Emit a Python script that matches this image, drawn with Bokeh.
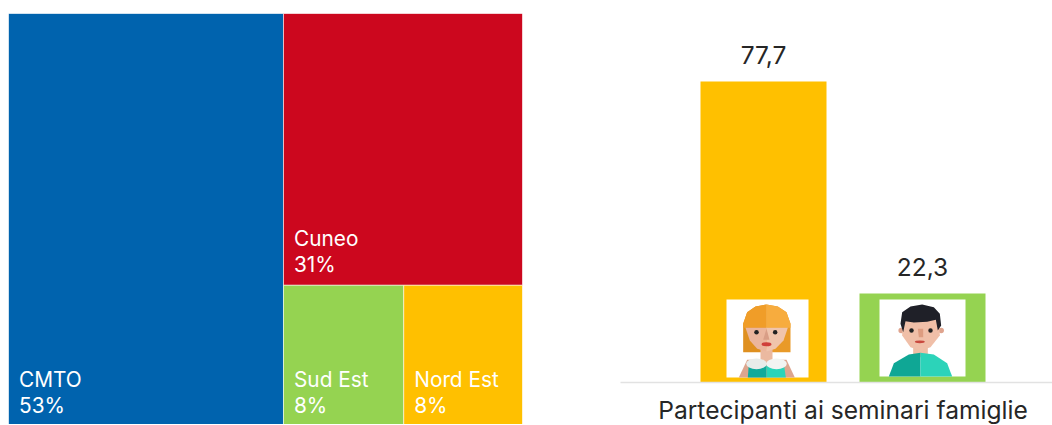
from bokeh.plotting import figure
from bokeh.layouts import row
from bokeh.models import Range1d, FactorRange, ColumnDataSource
from bokeh.transform import dodge
from bokeh.core.properties import value
from bokeh.embed import file_html
from bokeh.resources import INLINE

# ---- data ----
region_names = ["CMTO", "Cuneo", "Sud Est", "Nord Est"]
region_shares = [53.5, 30.6, 8.0, 7.9]
region_labels = ["53%", "31%", "8%", "8%"]
region_colors = ["#0063AE", "#CC071E", "#95D351", "#FFC000"]

category = "Partecipanti ai seminari famiglie"
series_values = [77.7, 22.3]
series_labels = ["77,7", "22,3"]
series_colors = ["#FFC000", "#95D351"]

FONT = "Inter"
TREE_FS = "20.8px"
BAR_FS = "24.5px"

# ---- treemap (slice and dice from the shares) ----
total = sum(region_shares)
first_w = region_shares[0] / total * 100
rest = sum(region_shares[1:])
second_h = region_shares[1] / rest * 100
low_h = 100 - second_h
low_split = first_w + (100 - first_w) * region_shares[2] / (region_shares[2] + region_shares[3])

left = [0, first_w, first_w, low_split]
right = [first_w, 100, low_split, 100]
bottom = [0, low_h, 0, 0]
top = [100, 100, low_h, low_h]

tree = ColumnDataSource(dict(left=left, right=right, bottom=bottom, top=top,
                             color=region_colors, name=region_names, label=region_labels))

p1 = figure(width=534, height=432, output_backend="svg", toolbar_location=None,
            x_range=Range1d(0, 100), y_range=Range1d(0.48, 100), frame_align=False,
            min_border_left=16, min_border_right=4, min_border_top=21, min_border_bottom=0,
            outline_line_color=None, background_fill_color="white")
p1.axis.visible = False
p1.grid.visible = False
p1.quad(left="left", right="right", bottom="bottom", top="top", fill_color="color",
        line_color="white", line_alpha=0.55, line_width=1, source=tree)
p1.text(x="left", y="bottom", text="name", x_offset=10.5, y_offset=-47, text_color="white",
        text_font=value(FONT), text_font_size=TREE_FS, text_baseline="alphabetic", source=tree)
p1.text(x="left", y="bottom", text="label", x_offset=10.5, y_offset=-21, text_color="white",
        text_font=value(FONT), text_font_size=TREE_FS, text_baseline="alphabetic", source=tree)

# ---- bars ----
Y0, Y1 = -0.95, 98.87
FRAME_W = 445
p2 = figure(width=94 + FRAME_W, height=432, output_backend="svg", toolbar_location=None,
            x_range=FactorRange(factors=[category], range_padding=0),
            y_range=Range1d(Y0, Y1), frame_align=False, frame_height=382,
            min_border_left=94, min_border_right=0, min_border_top=8, min_border_bottom=0,
            outline_line_color=None, background_fill_color="white")
p2.yaxis.visible = False
p2.grid.visible = False
p2.xaxis.axis_line_color = "#E2E2E2"
p2.xaxis.axis_line_width = 1.5
p2.xaxis.major_tick_line_color = None
p2.xaxis.minor_tick_line_color = None
p2.xaxis.major_label_text_font = FONT
p2.xaxis.major_label_text_font_size = "24.6px"
p2.xaxis.major_label_text_color = "#262626"
p2.xaxis.major_label_standoff = 6

OFFS = [-79.5 / FRAME_W, 79.5 / FRAME_W]
for val, lab, col, off in zip(series_values, series_labels, series_colors, OFFS):
    s = ColumnDataSource(dict(cat=[category], val=[val], lab=[lab]))
    x = dodge("cat", off, range=p2.x_range)
    p2.vbar(x=x, top="val", bottom=Y0, width=126 / FRAME_W, fill_color=col, line_color=None, source=s)
    p2.text(x=x, y="val", text="lab", y_offset=-27, text_align="center", text_baseline="alphabetic",
            text_color="#262626", text_font=value(FONT), text_font_size=BAR_FS, source=s)

# ---- avatars: drawn in the pixels of the reference's picture, converted to the bar chart's scales ----
def zx(x):
    return ((700 + x / 3) - 620) / FRAME_W

def zy(y):
    return Y0 + (382 - (280 + y / 3)) * (Y1 - Y0) / 382

def poly(pts, color):
    p2.patch([zx(a) for a, b in pts], [zy(b) for a, b in pts], fill_color=color, line_color=None)

def dot(cx, cy, size, color):
    p2.scatter([zx(cx)], [zy(cy)], size=size, fill_color=color, line_color=None)

def oval(cx, cy, w, h, color):
    p2.ellipse([zx(cx)], [zy(cy)], width=w / 3, height=h / 3, width_units="screen", height_units="screen",
                fill_color=color, line_color=None)

# girl
poly([(78, 57), (324, 57), (324, 291), (78, 291)], "#FFFFFF")
poly([(115, 291), (140, 238), (258, 238), (283, 291)], "#DDA58E")
poly([(128, 215), (128, 130), (140, 95), (165, 78), (198, 72), (198, 215)], "#DF9020")
poly([(198, 215), (198, 72), (232, 78), (258, 95), (270, 130), (270, 215)], "#E99A28")
poly([(128, 142), (128, 130), (140, 95), (165, 78), (198, 72), (198, 142)], "#F09D28")
poly([(198, 142), (198, 72), (232, 78), (258, 95), (270, 130), (270, 142)], "#F7AC3E")
poly([(180, 205), (216, 205), (216, 245), (180, 245)], "#EBB9A0")
poly([(135, 142), (198, 142), (198, 213), (170, 205), (148, 180)], "#EBB59C")
poly([(198, 142), (262, 142), (249, 180), (225, 205), (198, 213)], "#F0C4AB")
poly([(198, 145), (207, 178), (188, 178)], "#D99E86")
dot(168, 155, 4.5, "#222222")
dot(224, 155, 4.5, "#222222")
oval(198, 191, 30, 12, "#D0403A")
poly([(142, 291), (145, 250), (198, 255), (198, 291)], "#11AA9B")
poly([(198, 291), (198, 255), (250, 250), (256, 291)], "#2BD4B8")
oval(168, 250, 62, 32, "#E8ECEA")
oval(228, 250, 62, 32, "#F2F4F2")

# boy
poly([(537, 57), (795, 57), (795, 288), (537, 288)], "#FFFFFF")
dot(602, 150, 5.5, "#DFA48E")
dot(722, 150, 5.5, "#DFA48E")
poly([(638, 195), (682, 195), (682, 230), (638, 230)], "#EDBFA6")
poly([(565, 288), (580, 248), (625, 222), (660, 217), (660, 288)], "#0FA795")
poly([(660, 288), (660, 217), (700, 222), (740, 248), (755, 288)], "#2CD3B9")
poly([(605, 110), (715, 110), (718, 165), (690, 200), (660, 210), (630, 200), (605, 165)], "#F0BFA8")
poly([(600, 130), (605, 95), (630, 78), (665, 72), (700, 80), (718, 100), (722, 135), (712, 150),
      (706, 118), (680, 124), (640, 126), (615, 122), (608, 155)], "#1F2028")
dot(633, 150, 4.5, "#222222")
dot(690, 150, 4.5, "#222222")
poly([(652, 145), (668, 145), (668, 170), (655, 170)], "#DD9C80")
oval(658, 184, 30, 8, "#C9483E")

layout = row(p1, p2, spacing=0, margin=(-8, -21, -8, -8))
open("out.html", "w").write(file_html(layout, INLINE))
